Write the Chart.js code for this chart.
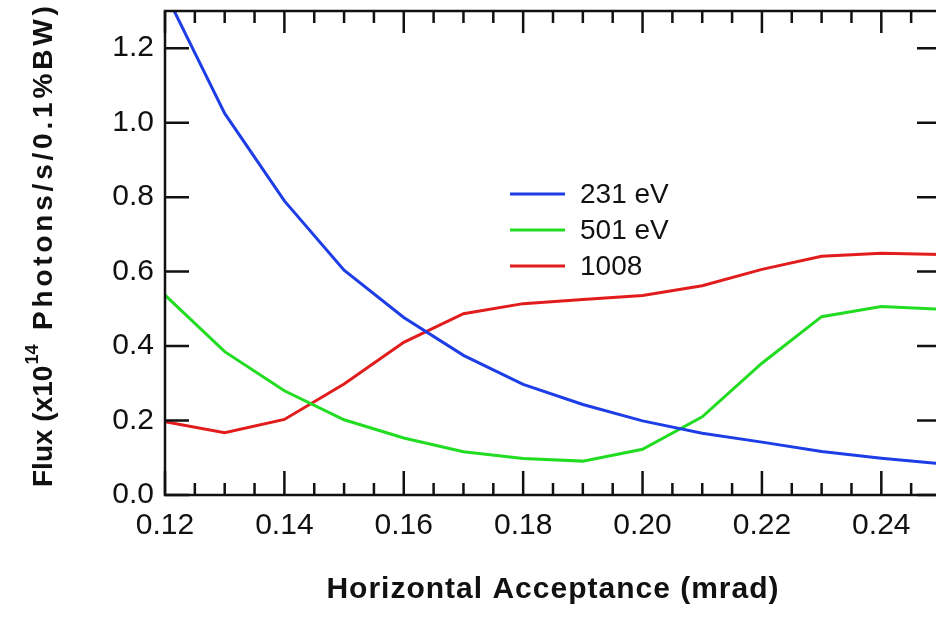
<!DOCTYPE html>
<html>
<head>
<meta charset="utf-8">
<script src="https://cdn.jsdelivr.net/npm/chart.js@4.4.1/dist/chart.umd.min.js"></script>
<style>
  html, body { margin: 0; padding: 0; background: #fff; overflow: hidden; }
  #wrap { width: 941px; height: 617px; }
</style>
</head>
<body>
<div id="wrap"><canvas id="flux" width="941" height="617"></canvas></div>
<script>
// horizontal acceptance (mrad) and flux (x10^14 photons/s/0.1%BW) per photon energy
const ACCEPTANCE = [0.12, 0.13, 0.14, 0.15, 0.16, 0.17, 0.18, 0.19, 0.20, 0.21, 0.22, 0.23, 0.24, 0.25];
const FLUX_231 = [1.35, 1.025, 0.79, 0.604, 0.477, 0.375, 0.297, 0.243, 0.199, 0.166, 0.142, 0.117, 0.099, 0.084];
const FLUX_501 = [0.537, 0.385, 0.28, 0.202, 0.153, 0.116, 0.098, 0.091, 0.123, 0.21, 0.354, 0.479, 0.506, 0.499];
const FLUX_1008 = [0.197, 0.167, 0.203, 0.298, 0.41, 0.487, 0.514, 0.525, 0.536, 0.562, 0.606, 0.641, 0.649, 0.646];

const SERIES_LABELS = ["231 eV", "501 eV", "1008"];
const SERIES_COLORS = ["#1d3de6", "#22dc22", "#e21c1c"];

const X_TICKS = [0.12, 0.14, 0.16, 0.18, 0.20, 0.22, 0.24];
const X_MINOR_STEP = 0.005;
const Y_TICKS = [0.0, 0.2, 0.4, 0.6, 0.8, 1.0, 1.2];

const FONT = "'Liberation Sans', Arial, Helvetica, sans-serif";
const INK = "#111";

const toPoints = (ys) => ACCEPTANCE.map((x, i) => ({ x: x, y: ys[i] }));

// boxed frame with inward ticks on all four sides
const framePlugin = {
  id: "frame",
  afterDatasetsDraw(chart) {
    const { ctx, chartArea: a, scales } = chart;
    const xs = scales.x, ys = scales.y;
    ctx.save();
    ctx.strokeStyle = INK;
    ctx.lineWidth = 2.5;
    ctx.lineCap = "butt";
    ctx.strokeRect(a.left, a.top, a.right - a.left, a.bottom - a.top);
    ctx.beginPath();
    for (let v = xs.min; v <= xs.max + 1e-9; v += X_MINOR_STEP) {
      const px = xs.getPixelForValue(v);
      const major = X_TICKS.some((t) => Math.abs(t - v) < 1e-6);
      ctx.moveTo(px, a.bottom);
      ctx.lineTo(px, a.bottom - (major ? 24 : 12));
      ctx.moveTo(px, a.top);
      ctx.lineTo(px, a.top + (major ? 22 : 12));
    }
    Y_TICKS.forEach((v) => {
      const py = ys.getPixelForValue(v);
      ctx.moveTo(a.left, py);
      ctx.lineTo(a.left + 24, py);
      ctx.moveTo(a.right, py);
      ctx.lineTo(a.right - 24, py);
    });
    ctx.stroke();
    ctx.restore();
  },
  afterDraw(chart) {
    const { ctx, chartArea: a } = chart;
    ctx.save();
    ctx.fillStyle = INK;

    // x axis title
    ctx.font = "bold 30px " + FONT;
    ctx.letterSpacing = "1px";
    ctx.textAlign = "center";
    ctx.textBaseline = "alphabetic";
    ctx.fillText("Horizontal Acceptance (mrad)", (a.left + a.right) / 2, 598);

    // y axis title with superscript exponent
    ctx.letterSpacing = "0px";
    ctx.translate(52, 487);
    ctx.rotate(-Math.PI / 2);
    ctx.textAlign = "left";
    ctx.font = "bold 28px " + FONT;
    const head = "Flux (x10";
    ctx.fillText(head, 0, 0);
    const w = ctx.measureText(head).width;
    ctx.font = "bold 18px " + FONT;
    ctx.fillText("14", w + 1, -14);
    ctx.font = "bold 28px " + FONT;
    ctx.letterSpacing = "3.8px";
    ctx.fillText("Photons/s/0.1%BW)", 157, 0);
    ctx.restore();

    // legend
    ctx.save();
    ctx.font = "28px " + FONT;
    ctx.textBaseline = "middle";
    ctx.fillStyle = INK;
    chart.data.datasets.forEach((ds, i) => {
      const y = 194 + i * 36;
      ctx.strokeStyle = ds.borderColor;
      ctx.lineWidth = 3;
      ctx.beginPath();
      ctx.moveTo(510, y);
      ctx.lineTo(565, y);
      ctx.stroke();
      ctx.fillText(ds.label, 580, y + 1);
    });
    ctx.restore();
  }
};

const series = [FLUX_231, FLUX_501, FLUX_1008];

new Chart(document.getElementById("flux"), {
  type: "line",
  data: {
    datasets: series.map((ys, i) => ({
      label: SERIES_LABELS[i],
      data: toPoints(ys),
      borderColor: SERIES_COLORS[i],
      borderWidth: 3,
      pointRadius: 0,
      tension: 0,
      fill: false
    }))
  },
  options: {
    responsive: false,
    animation: false,
    devicePixelRatio: 1,
    layout: { padding: { top: 11, left: 0, right: 0, bottom: 0 } },
    plugins: { legend: { display: false }, tooltip: { enabled: false } },
    scales: {
      x: {
        type: "linear",
        min: 0.12,
        max: 0.25,
        afterBuildTicks: (s) => { s.ticks = X_TICKS.map((v) => ({ value: v })); },
        afterFit: (s) => { s.height = 122; s.paddingLeft = 0; s.paddingRight = 0; },
        grid: { display: false, drawTicks: false },
        border: { display: false },
        ticks: {
          padding: 13,
          color: INK,
          font: { size: 30, family: FONT },
          maxRotation: 0,
          autoSkip: false,
          callback: (v) => Number(v).toFixed(2)
        }
      },
      y: {
        min: 0,
        max: 1.3,
        afterBuildTicks: (s) => { s.ticks = Y_TICKS.map((v) => ({ value: v })); },
        afterFit: (s) => { s.width = 165; s.paddingTop = 0; s.paddingBottom = 0; },
        grid: { display: false, drawTicks: false },
        border: { display: false },
        ticks: {
          padding: 11,
          color: INK,
          font: { size: 30, family: FONT },
          callback: (v) => Number(v).toFixed(1)
        }
      }
    }
  },
  plugins: [framePlugin]
});
</script>
</body>
</html>
